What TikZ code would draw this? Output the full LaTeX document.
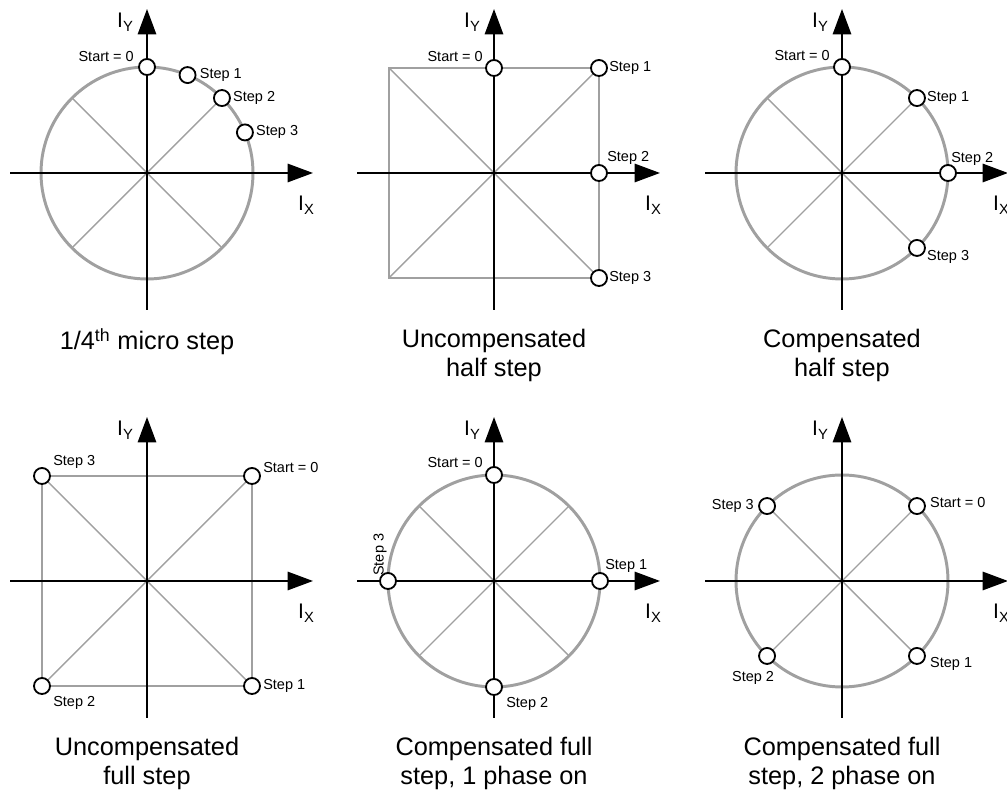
\documentclass[tikz,border=0pt]{standalone}
\usepackage{fontspec}
\setmainfont{Liberation Sans}
\definecolor{rimgray}{RGB}{160,160,160}
\usetikzlibrary{arrows.meta,positioning}
\newcommand{\axsub}[1]{\raisebox{-2.5pt}{\fontsize{10.5}{12}\selectfont #1}}

\begin{document}
\begin{tikzpicture}[x=0.025cm, y=0.025cm,
    axisln/.style={line width=1.4pt, -{Triangle[length=18pt,width=13pt]}},
    rimln/.style={draw=rimgray, line width=2.1pt},
    diagln/.style={draw=rimgray, line width=1pt},
    stepdot/.style={circle, draw, fill=white, line width=1.3pt,
                    minimum size=11.4pt, inner sep=0pt},
    steplbl/.style={inner sep=0pt, font=\fontsize{10.3}{12}\selectfont},
    axlbl/.style={inner sep=0pt, font=\fontsize{15}{18}\selectfont},
    capt/.style={inner sep=0pt, align=center, anchor=north,
                 font=\fontsize{18}{20.5}\selectfont}
  ]
  \useasboundingbox (0,0) rectangle (1007,794);

  % 1/4 micro step
  \begin{scope}[shift={(147,621)}]
    \draw[rimln] (0,0) circle[radius=106];
    \draw[diagln] (45:106) -- (225:106) (135:106) -- (315:106);
    \draw[axisln] (-137,0) -- (166,0);
    \draw[axisln] (0,-137) -- (0,164);
    \node[axlbl] (p1iy) at (-22,151) {I\axsub{Y}};
    \node[axlbl] (p1ix) at (159,-32) {I\axsub{X}};
    \node[stepdot] (p1s0) at (90:106) {};
    \node[stepdot] (p1s1) at (67.5:106) {};
    \node[stepdot] (p1s2) at (45:106) {};
    \node[stepdot] (p1s3) at (22.5:106) {};
    \node[steplbl, anchor=east] (p1t0) at ([shift={(-13,10)}]p1s0.center) {Start = 0};
    \node[steplbl, anchor=west] (p1t1) at ([shift={(12,0)}]p1s1.center) {Step 1};
    \node[steplbl, anchor=west] (p1t2) at ([shift={(11,0)}]p1s2.center) {Step 2};
    \node[steplbl, anchor=west] (p1t3) at ([shift={(11,0)}]p1s3.center) {Step 3};
    \node[capt] (p1cap) at (0,-155) {1/4\textsuperscript{th} micro step};
  \end{scope}

  % uncompensated half step
  \begin{scope}[shift={(494,621)}]
    \draw[rimln] (-105,-105) rectangle (105,105);
    \draw[diagln] (-105,-105) -- (105,105) (-105,105) -- (105,-105);
    \draw[axisln] (-137,0) -- (166,0);
    \draw[axisln] (0,-137) -- (0,164);
    \node[axlbl] (p2iy) at (-22,151) {I\axsub{Y}};
    \node[axlbl] (p2ix) at (159,-32) {I\axsub{X}};
    \node[stepdot] (p2s0) at (0,105) {};
    \node[stepdot] (p2s1) at (105,105) {};
    \node[stepdot] (p2s2) at (105,0) {};
    \node[stepdot] (p2s3) at (105,-105) {};
    \node[steplbl, anchor=east] (p2t0) at ([shift={(-11,11)}]p2s0.center) {Start = 0};
    \node[steplbl, anchor=west] (p2t1) at ([shift={(10,0)}]p2s1.center) {Step 1};
    \node[steplbl, anchor=west] (p2t2) at ([shift={(8,15)}]p2s2.center) {Step 2};
    \node[steplbl, anchor=west] (p2t3) at ([shift={(10,0)}]p2s3.center) {Step 3};
    \node[capt] (p2cap) at (0,-156) {Uncompensated\\half step};
  \end{scope}

  % compensated half step
  \begin{scope}[shift={(842,621)}]
    \draw[rimln] (0,0) circle[radius=106];
    \draw[diagln] (45:106) -- (225:106) (135:106) -- (315:106);
    \draw[axisln] (-137,0) -- (166,0);
    \draw[axisln] (0,-137) -- (0,164);
    \node[axlbl] (p3iy) at (-22,151) {I\axsub{Y}};
    \node[axlbl] (p3ix) at (159,-32) {I\axsub{X}};
    \node[stepdot] (p3s0) at (90:106) {};
    \node[stepdot] (p3s1) at (45:106) {};
    \node[stepdot] (p3s2) at (0:106) {};
    \node[stepdot] (p3s3) at (-45:106) {};
    \node[steplbl, anchor=east] (p3t0) at ([shift={(-12,11)}]p3s0.center) {Start = 0};
    \node[steplbl, anchor=west] (p3t1) at ([shift={(10,0)}]p3s1.center) {Step 1};
    \node[steplbl, anchor=west] (p3t2) at ([shift={(3,14)}]p3s2.center) {Step 2};
    \node[steplbl, anchor=west] (p3t3) at ([shift={(10,-9)}]p3s3.center) {Step 3};
    \node[capt] (p3cap) at (0,-156) {Compensated\\half step};
  \end{scope}

  % uncompensated full step
  \begin{scope}[shift={(147,213)}]
    \draw[rimln] (-105,-105) rectangle (105,105);
    \draw[diagln] (-105,-105) -- (105,105) (-105,105) -- (105,-105);
    \draw[axisln] (-137,0) -- (166,0);
    \draw[axisln] (0,-137) -- (0,164);
    \node[axlbl] (p4iy) at (-22,151) {I\axsub{Y}};
    \node[axlbl] (p4ix) at (159,-32) {I\axsub{X}};
    \node[stepdot] (p4s0) at (105,105) {};
    \node[stepdot] (p4s1) at (105,-105) {};
    \node[stepdot] (p4s2) at (-105,-105) {};
    \node[stepdot] (p4s3) at (-105,105) {};
    \node[steplbl, anchor=west] (p4t0) at ([shift={(11,8)}]p4s0.center) {Start = 0};
    \node[steplbl, anchor=west] (p4t1) at ([shift={(11,0)}]p4s1.center) {Step 1};
    \node[steplbl, anchor=west] (p4t2) at ([shift={(11,-17)}]p4s2.center) {Step 2};
    \node[steplbl, anchor=west] (p4t3) at ([shift={(11,14)}]p4s3.center) {Step 3};
    \node[capt] (p4cap) at (0,-156) {Uncompensated\\full step};
  \end{scope}

  % compensated full step, 1 phase on
  \begin{scope}[shift={(494,213)}]
    \draw[rimln] (0,0) circle[radius=106];
    \draw[diagln] (45:106) -- (225:106) (135:106) -- (315:106);
    \draw[axisln] (-137,0) -- (166,0);
    \draw[axisln] (0,-137) -- (0,164);
    \node[axlbl] (p5iy) at (-22,151) {I\axsub{Y}};
    \node[axlbl] (p5ix) at (159,-32) {I\axsub{X}};
    \node[stepdot] (p5s0) at (90:106) {};
    \node[stepdot] (p5s1) at (0:106) {};
    \node[stepdot] (p5s2) at (270:106) {};
    \node[stepdot] (p5s3) at (180:106) {};
    \node[steplbl, anchor=east] (p5t0) at ([shift={(-11,12)}]p5s0.center) {Start = 0};
    \node[steplbl, anchor=west] (p5t1) at ([shift={(5,15)}]p5s1.center) {Step 1};
    \node[steplbl, anchor=west] (p5t2) at ([shift={(12,-17)}]p5s2.center) {Step 2};
    \node[steplbl, anchor=west, rotate=90] (p5t3) at ([shift={(-8,5)}]p5s3.center) {Step 3};
    \node[capt] (p5cap) at (0,-156) {Compensated full\\step, 1 phase on};
  \end{scope}

  % compensated full step, 2 phase on
  \begin{scope}[shift={(842,213)}]
    \draw[rimln] (0,0) circle[radius=106];
    \draw[diagln] (45:106) -- (225:106) (135:106) -- (315:106);
    \draw[axisln] (-137,0) -- (166,0);
    \draw[axisln] (0,-137) -- (0,164);
    \node[axlbl] (p6iy) at (-22,151) {I\axsub{Y}};
    \node[axlbl] (p6ix) at (159,-32) {I\axsub{X}};
    \node[stepdot] (p6s0) at (45:106) {};
    \node[stepdot] (p6s1) at (-45:106) {};
    \node[stepdot] (p6s2) at (-135:106) {};
    \node[stepdot] (p6s3) at (135:106) {};
    \node[steplbl, anchor=west] (p6t0) at ([shift={(13,4)}]p6s0.center) {Start = 0};
    \node[steplbl, anchor=west] (p6t1) at ([shift={(13,-8)}]p6s1.center) {Step 1};
    \node[steplbl] (p6t2) at ([shift={(-14,-22)}]p6s2.center) {Step 2};
    \node[steplbl, anchor=east] (p6t3) at ([shift={(-13,0)}]p6s3.center) {Step 3};
    \node[capt] (p6cap) at (0,-156) {Compensated full\\step, 2 phase on};
  \end{scope}
\end{tikzpicture}
\end{document}
